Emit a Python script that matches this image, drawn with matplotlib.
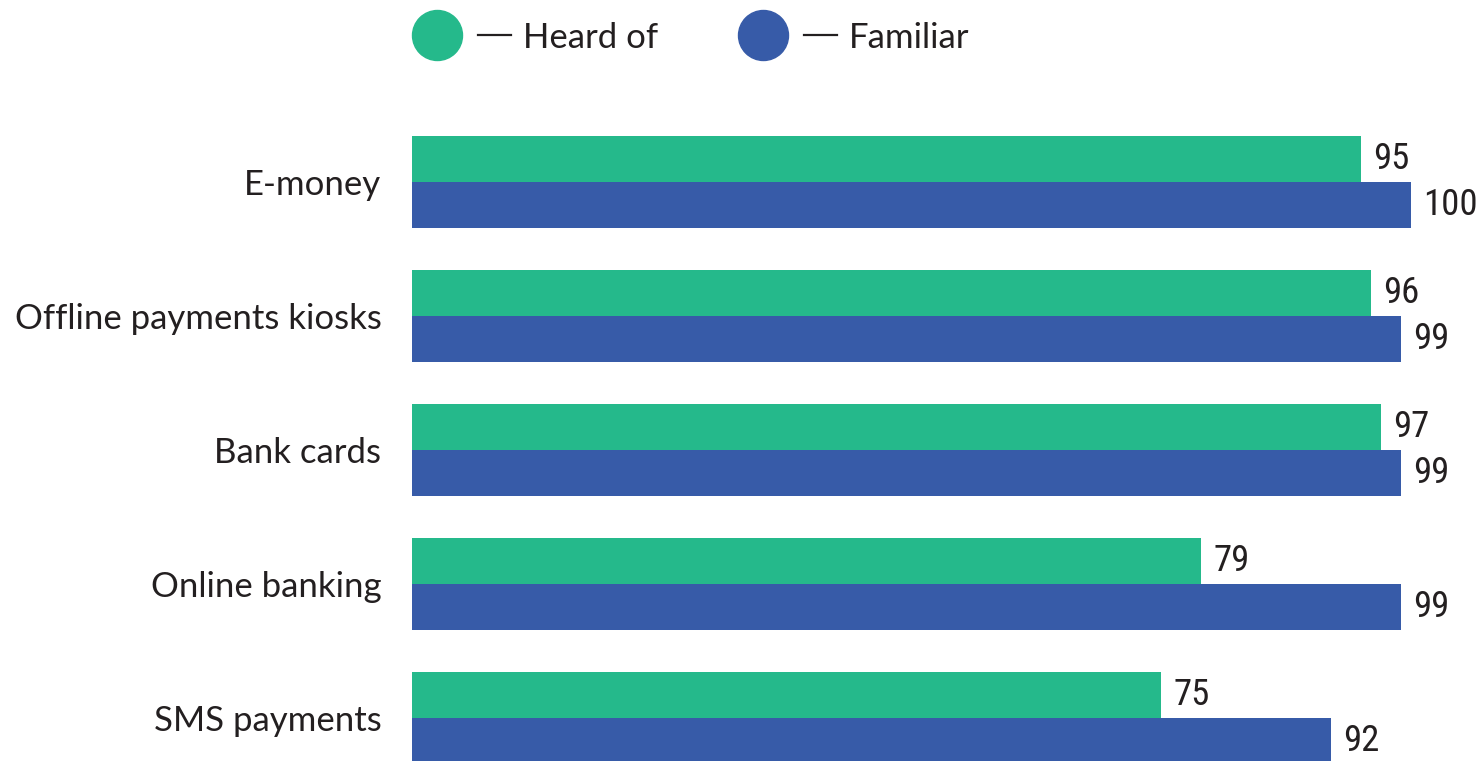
import matplotlib.pyplot as plt
from matplotlib.lines import Line2D
from matplotlib import font_manager

categories = ["E-money", "Offline payments kiosks", "Bank cards", "Online banking", "SMS payments"]
heard_of = [95, 96, 97, 79, 75]
familiar = [100, 99, 99, 99, 92]
series_names = ["Heard of", "Familiar"]

GREEN = "#25b98b"
BLUE = "#375ba8"
TEXT = "#231f20"

# pick a narrow font for the numbers if one is installed
fonts = font_manager.fontManager.ttflist
names = {f.name for f in fonts}
num_kw = dict(family="Roboto", fontsize=24)
if "Roboto Condensed" in names:
    num_kw = dict(family="Roboto Condensed", fontsize=26.5)
elif "Liberation Sans Narrow" in names:
    num_kw = dict(family="Liberation Sans Narrow", fontsize=26.5)
elif any(f.name == "DejaVu Sans" and f.stretch == "condensed" for f in fonts):
    num_kw = dict(family="DejaVu Sans", fontstretch="condensed", fontsize=25)

W, H = 1477, 761
fig = plt.figure(figsize=(W / 100, H / 100), dpi=100)
ax = fig.add_axes([412 / W, 0, 1 - 412 / W, 1])

h = 0.343
ys = list(range(len(categories)))
ax.barh([y - h / 2 for y in ys], heard_of, height=h, color=GREEN)
ax.barh([y + h / 2 for y in ys], familiar, height=h, color=BLUE)

for y, v in zip(ys, heard_of):
    ax.text(v + 1.2, y - h / 2, str(v), va="center", ha="left", color=TEXT, **num_kw)
for y, v in zip(ys, familiar):
    ax.text(v + 1.2, y + h / 2, str(v), va="center", ha="left", color=TEXT, **num_kw)

ax.set_xlim(0, 100 * (W - 412) / 999)
ax.set_ylim((H - 182) / 134, -182 / 134)
ax.set_yticks(ys)
ax.set_yticklabels(categories, fontsize=25, family="Lato", color=TEXT,
                   va="center_baseline")
ax.tick_params(axis="y", length=0, pad=22)
ax.set_xticks([])
for s in ax.spines.values():
    s.set_visible(False)

# legend drawn by hand at the top
ly = 1 - 35 / H
for cx, col, name in [(437, GREEN, series_names[0]), (763, BLUE, series_names[1])]:
    fig.add_artist(Line2D([cx / W], [ly], marker="o", markersize=36,
                          color=col, linestyle="none", transform=fig.transFigure))
    fig.add_artist(Line2D([(cx + 41) / W, (cx + 74) / W], [ly, ly], color=TEXT,
                          linewidth=1.6, transform=fig.transFigure))
    fig.text((cx + 86) / W, ly, name, ha="left", va="center_baseline",
             fontsize=25, family="Lato", color=TEXT)

fig.savefig("out.png", dpi=100)
